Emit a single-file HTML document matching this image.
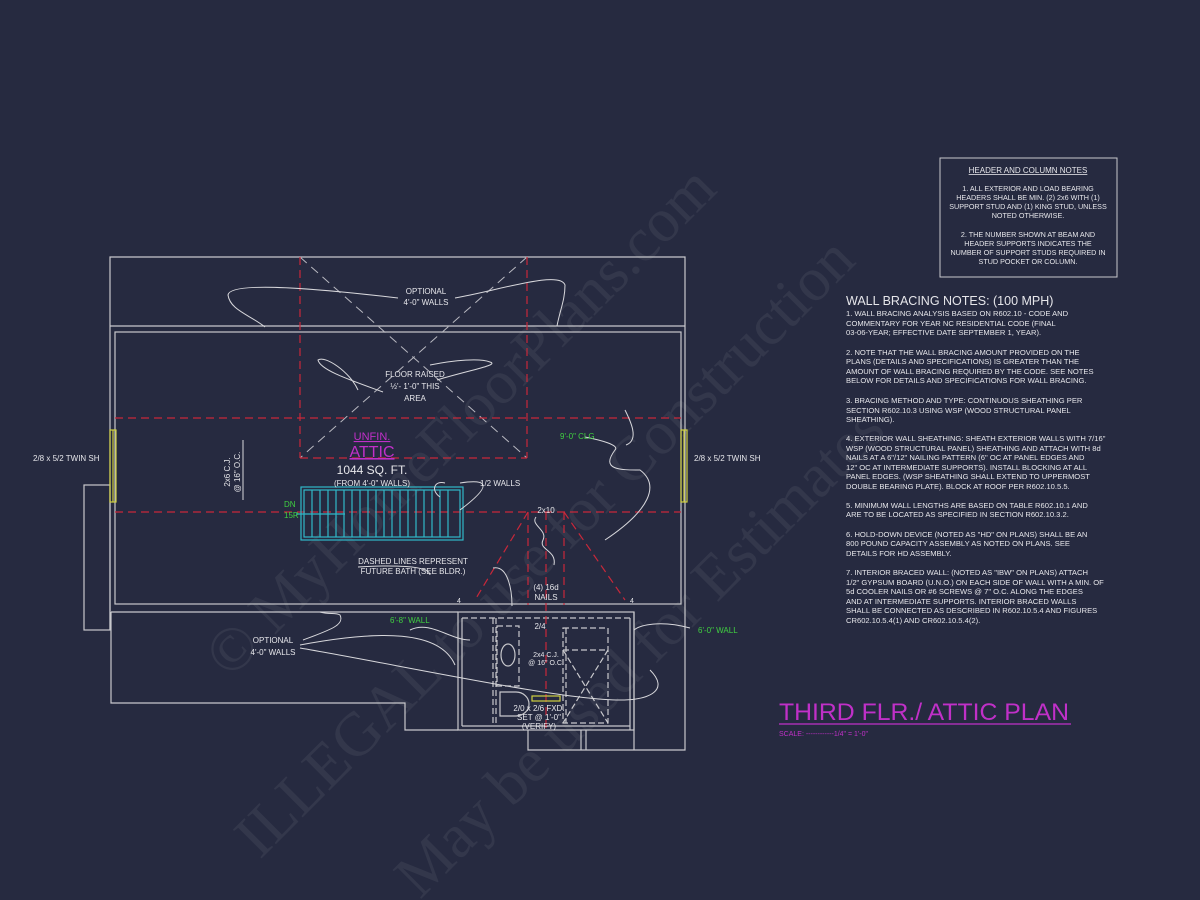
<!DOCTYPE html>
<html><head><meta charset="utf-8"><style>
html,body{margin:0;padding:0;background:#262a40;}
svg{display:block}
text{font-family:"Liberation Sans",sans-serif;fill:#e6e6ea}
</style></head><body>
<svg width="1200" height="900" viewBox="0 0 1200 900" xmlns="http://www.w3.org/2000/svg">
<rect width="1200" height="900" fill="#262a40"/>
<!-- watermark -->
<g opacity="0.06">
<text x="230" y="680" font-size="62" transform="rotate(-45 230 680)" style="fill:#ffffff;font-family:'Liberation Serif',serif">© MyHomeFloorPlans.com</text>
<text x="260" y="860" font-size="62" transform="rotate(-45 260 860)" style="fill:#ffffff;font-family:'Liberation Serif',serif">ILLEGAL to use for Construction</text>
<text x="420" y="900" font-size="62" transform="rotate(-45 420 900)" style="fill:#ffffff;font-family:'Liberation Serif',serif">May be used for Estimates</text>
</g>
<g stroke="#c8c8cc" stroke-width="1.2" fill="none">
<polyline points="110,630 110,257 685,257 685,750 528,750 528,730"/>
<line x1="110" y1="326" x2="685" y2="326"/>
<rect x="115" y="332" width="566" height="272"/>
<polyline points="111,612 458,612"/>
<polyline points="111,612 111,703 405,703 405,730 458,730"/>
<rect x="84" y="485" width="26" height="145"/>
<rect x="458" y="612" width="176" height="118"/>
<line x1="462" y1="618" x2="462" y2="726"/>
<line x1="586" y1="730" x2="586" y2="750"/><line x1="581" y1="730" x2="581" y2="750"/>
<line x1="634" y1="612" x2="634" y2="750"/><line x1="630" y1="618" x2="630" y2="730"/>
<line x1="462" y1="726" x2="630" y2="726"/>
<g stroke-dasharray="6,3">
<line x1="462" y1="618" x2="630" y2="618"/>
<line x1="493" y1="618" x2="493" y2="726"/><line x1="496" y1="618" x2="496" y2="726"/>
<rect x="497" y="626" width="22" height="60"/>
<rect x="563" y="628" width="45" height="95"/>
<line x1="563" y1="650" x2="608" y2="650"/>
<line x1="566" y1="628" x2="566" y2="723"/>
<line x1="563" y1="650" x2="608" y2="723"/><line x1="608" y1="650" x2="563" y2="723"/>
</g>
<ellipse cx="508" cy="655" rx="7" ry="11"/>
<path d="M500 692 h16 a13 12 0 0 1 0 24 h-16 z"/>
</g>
<g stroke="#b8b8c0" stroke-width="1" stroke-dasharray="9,6" fill="none">
<line x1="300" y1="257" x2="527" y2="458"/><line x1="527" y1="257" x2="300" y2="458"/>
</g>
<g stroke="#c8283a" stroke-width="1.2" stroke-dasharray="8,5" fill="none">
<line x1="300" y1="257" x2="300" y2="458"/><line x1="527" y1="257" x2="527" y2="458"/>
<line x1="300" y1="458" x2="527" y2="458"/>
<line x1="115" y1="418" x2="681" y2="418"/>
<line x1="115" y1="512" x2="681" y2="512"/>
<line x1="528" y1="512" x2="528" y2="605"/><line x1="564" y1="512" x2="564" y2="605"/>
<line x1="528" y1="512" x2="475" y2="600"/><line x1="564" y1="512" x2="625" y2="600"/>
<line x1="546" y1="512" x2="546" y2="730"/>
</g>
<g stroke="#d0d040" stroke-width="1.2" fill="none">
<rect x="110" y="430" width="6" height="72"/><line x1="113" y1="430" x2="113" y2="502"/>
<rect x="681" y="430" width="6" height="72"/><line x1="684" y1="430" x2="684" y2="502"/>
<rect x="532" y="696" width="28" height="5"/>
</g>
<g stroke="#30b8c8" stroke-width="1.2" fill="none">
<rect x="301" y="487" width="162" height="53"/>
<rect x="304" y="490" width="156" height="47"/>
<path d="M312 490v47M320 490v47M328 490v47M336 490v47M344 490v47M352 490v47M360 490v47M368 490v47M376 490v47M384 490v47M392 490v47M400 490v47M408 490v47M416 490v47M424 490v47M432 490v47M440 490v47M448 490v47"/>
<line x1="296" y1="514" x2="345" y2="514"/>
</g>
<g stroke="#d8d8dc" stroke-width="1" fill="none">
<path d="M398 298 C330 290 230 280 228 295 C230 310 250 315 265 327"/>
<path d="M455 298 C500 290 560 270 565 285 C565 300 560 310 557 326"/>
<path d="M383 392 C350 380 320 370 318 360 C325 355 350 372 358 390"/>
<path d="M437 380 C470 370 500 365 490 362 C480 358 455 360 430 365"/>
<path d="M460 483 C480 480 500 480 460 510"/>
<path d="M440 497 C430 490 435 480 445 483"/>
<path d="M585 437 C600 440 620 445 615 450 C600 470 620 470 640 470 C660 485 650 510 605 540"/>
<path d="M626 445 C640 440 630 420 625 410"/>
<path d="M536 517 C530 525 548 530 543 540 C538 550 557 550 554 565"/>
<path d="M358 567 C390 565 430 565 430 575"/>
<path d="M493 568 C508 565 512 590 512 606"/>
<path d="M303 640 C330 630 345 625 340 615 C335 612 330 615 320 612"/>
<path d="M300 645 C380 630 440 630 455 665"/>
<path d="M300 648 C400 665 560 700 620 700 C650 700 670 690 650 670"/>
<path d="M410 630 C430 620 450 640 470 640"/>
<path d="M690 628 C660 620 640 625 634 630"/>
</g>
<g stroke="#d8d8dc" stroke-width="1"><line x1="243" y1="440" x2="243" y2="500"/></g>
<g font-size="8">
<text x="426" y="294" text-anchor="middle">OPTIONAL</text>
<text x="426" y="305" text-anchor="middle">4'-0" WALLS</text>
<text x="415" y="377" text-anchor="middle">FLOOR RAISED</text>
<text x="415" y="389" text-anchor="middle">½'- 1'-0" THIS</text>
<text x="415" y="401" text-anchor="middle">AREA</text>
<text x="480" y="486">1/2 WALLS</text>
<text x="546" y="513" text-anchor="middle">2x10</text>
<text x="546" y="590" text-anchor="middle">(4) 16d</text>
<text x="546" y="600" text-anchor="middle">NAILS</text>
<text x="413" y="564" text-anchor="middle">DASHED LINES REPRESENT</text>
<text x="413" y="574" text-anchor="middle">FUTURE BATH (SEE BLDR.)</text>
<text x="273" y="643" text-anchor="middle">OPTIONAL</text>
<text x="273" y="655" text-anchor="middle">4'-0" WALLS</text>
<text x="540" y="629" text-anchor="middle">2/4</text>
<text x="546" y="657" text-anchor="middle" font-size="7">2x4 C.J.</text>
<text x="546" y="665" text-anchor="middle" font-size="7">@ 16" O.C.</text>
<text x="539" y="711" text-anchor="middle">2/0 x 2/6 FXD.</text>
<text x="539" y="720" text-anchor="middle">SET @ 1'-0"</text>
<text x="539" y="729" text-anchor="middle">(VERIFY)</text>
<text x="459" y="603" text-anchor="middle" font-size="7">4</text>
<text x="632" y="603" text-anchor="middle" font-size="7">4</text>
<text x="33" y="461">2/8 x 5/2 TWIN SH</text>
<text x="694" y="461">2/8 x 5/2 TWIN SH</text>
<text x="0" y="0" font-size="8" transform="translate(230 472) rotate(-90)" text-anchor="middle">2x6 C.J.</text>
<text x="0" y="0" font-size="8" transform="translate(240 472) rotate(-90)" text-anchor="middle">@ 16" O.C.</text>
</g>
<g font-size="8">
<text x="560" y="439" style="fill:#40d040">9'-0" CLG</text>
<text x="390" y="623" style="fill:#40d040">6'-8" WALL</text>
<text x="698" y="633" style="fill:#40d040">6'-0" WALL</text>
<text x="284" y="507" style="fill:#40d040">DN</text>
<text x="284" y="518" style="fill:#40d040">15R</text>
</g>
<text x="372" y="440" font-size="11" text-anchor="middle" style="fill:#c030c8" text-decoration="underline">UNFIN.</text>
<text x="372" y="457" font-size="16" text-anchor="middle" style="fill:#c030c8" text-decoration="underline">ATTIC</text>
<text x="372" y="474" font-size="12" text-anchor="middle">1044 SQ. FT.</text>
<text x="372" y="486" font-size="8" text-anchor="middle">(FROM 4'-0" WALLS)</text>
<rect x="940" y="158" width="177" height="119" fill="none" stroke="#c8c8cc" stroke-width="1"/>
<g font-size="7.2" text-anchor="middle">
<text x="1028" y="173" text-decoration="underline" font-size="8">HEADER AND COLUMN NOTES</text>
<text x="1028" y="191">1. ALL EXTERIOR AND LOAD BEARING</text>
<text x="1028" y="200">HEADERS SHALL BE MIN. (2) 2x6 WITH (1)</text>
<text x="1028" y="209">SUPPORT STUD AND (1) KING STUD, UNLESS</text>
<text x="1028" y="218">NOTED OTHERWISE.</text>
<text x="1028" y="237">2. THE NUMBER SHOWN AT BEAM AND</text>
<text x="1028" y="246">HEADER SUPPORTS INDICATES THE</text>
<text x="1028" y="255">NUMBER OF SUPPORT STUDS REQUIRED IN</text>
<text x="1028" y="264">STUD POCKET OR COLUMN.</text>
</g>
<text x="846" y="305" font-size="12.5">WALL BRACING NOTES: (100 MPH)</text>
<g font-size="7.6">
<text x="846" y="316">1. WALL BRACING ANALYSIS BASED ON R602.10 - CODE AND</text>
<text x="846" y="326">COMMENTARY FOR YEAR NC RESIDENTIAL CODE (FINAL</text>
<text x="846" y="335">03-06-YEAR; EFFECTIVE DATE SEPTEMBER 1, YEAR).</text>
<text x="846" y="355">2. NOTE THAT THE WALL BRACING AMOUNT PROVIDED ON THE</text>
<text x="846" y="364">PLANS (DETAILS AND SPECIFICATIONS) IS GREATER THAN THE</text>
<text x="846" y="374">AMOUNT OF WALL BRACING REQUIRED BY THE CODE. SEE NOTES</text>
<text x="846" y="383">BELOW FOR DETAILS AND SPECIFICATIONS FOR WALL BRACING.</text>
<text x="846" y="403">3. BRACING METHOD AND TYPE: CONTINUOUS SHEATHING PER</text>
<text x="846" y="413">SECTION R602.10.3 USING WSP (WOOD STRUCTURAL PANEL</text>
<text x="846" y="422">SHEATHING).</text>
<text x="846" y="441">4. EXTERIOR WALL SHEATHING: SHEATH EXTERIOR WALLS WITH 7/16"</text>
<text x="846" y="451">WSP (WOOD STRUCTURAL PANEL) SHEATHING AND ATTACH WITH 8d</text>
<text x="846" y="460">NAILS AT A 6"/12" NAILING PATTERN (6" OC AT PANEL EDGES AND</text>
<text x="846" y="470">12" OC AT INTERMEDIATE SUPPORTS). INSTALL BLOCKING AT ALL</text>
<text x="846" y="479">PANEL EDGES. (WSP SHEATHING SHALL EXTEND TO UPPERMOST</text>
<text x="846" y="489">DOUBLE BEARING PLATE). BLOCK AT ROOF PER R602.10.5.5.</text>
<text x="846" y="508">5. MINIMUM WALL LENGTHS ARE BASED ON TABLE R602.10.1 AND</text>
<text x="846" y="517">ARE TO BE LOCATED AS SPECIFIED IN SECTION R602.10.3.2.</text>
<text x="846" y="537">6. HOLD-DOWN DEVICE (NOTED AS "HD" ON PLANS) SHALL BE AN</text>
<text x="846" y="546">800 POUND CAPACITY ASSEMBLY AS NOTED ON PLANS. SEE</text>
<text x="846" y="556">DETAILS FOR HD ASSEMBLY.</text>
<text x="846" y="575">7. INTERIOR BRACED WALL: (NOTED AS "IBW" ON PLANS) ATTACH</text>
<text x="846" y="585">1/2" GYPSUM BOARD (U.N.O.) ON EACH SIDE OF WALL WITH A MIN. OF</text>
<text x="846" y="594">5d COOLER NAILS OR #6 SCREWS @ 7" O.C. ALONG THE EDGES</text>
<text x="846" y="604">AND AT INTERMEDIATE SUPPORTS.  INTERIOR BRACED WALLS</text>
<text x="846" y="613">SHALL BE CONNECTED AS DESCRIBED IN R602.10.5.4 AND FIGURES</text>
<text x="846" y="623">CR602.10.5.4(1) AND CR602.10.5.4(2).</text>
</g>
<text x="779" y="720" font-size="24" style="fill:#c030c8" textLength="290" lengthAdjust="spacingAndGlyphs">THIRD FLR./ ATTIC PLAN</text>
<line x1="779" y1="724" x2="1071" y2="724" stroke="#c030c8" stroke-width="1.2"/>
<text x="779" y="736" font-size="7" style="fill:#c030c8">SCALE: ------------1/4" = 1'-0"</text>
</svg>
</body></html>
